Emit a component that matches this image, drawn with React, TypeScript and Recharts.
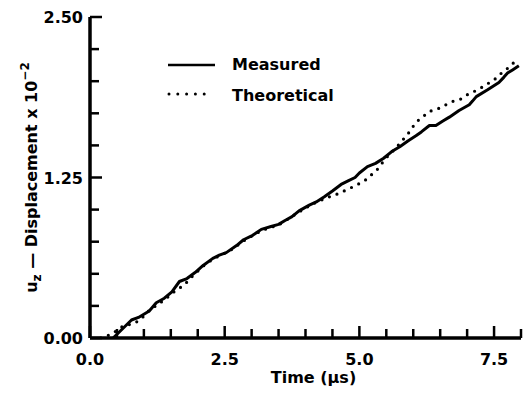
import React from "react";
import { LineChart, Line, XAxis, YAxis, Legend } from "recharts";

// Measured displacement (time µs, u_z x 10^-2)
const measuredTime = [0.43, 0.6, 0.77, 0.9, 1.0, 1.1, 1.23, 1.38, 1.52, 1.66, 1.8, 1.95, 2.1, 2.28, 2.4, 2.53, 2.72, 2.85, 3.02, 3.18, 3.36, 3.5, 3.62, 3.75, 3.88, 4.07, 4.2, 4.35, 4.5, 4.66, 4.8, 4.92, 5.0, 5.15, 5.3, 5.45, 5.6, 5.75, 5.9, 6.05, 6.15, 6.3, 6.42, 6.55, 6.67, 6.85, 7.04, 7.1, 7.17, 7.38, 7.59, 7.68, 7.75, 7.85, 7.96];
const measuredDisp = [0, 0.07, 0.14, 0.16, 0.185, 0.21, 0.275, 0.31, 0.36, 0.44, 0.463, 0.51, 0.565, 0.62, 0.645, 0.665, 0.72, 0.765, 0.8, 0.846, 0.868, 0.885, 0.915, 0.945, 0.99, 1.035, 1.06, 1.1, 1.145, 1.196, 1.225, 1.25, 1.285, 1.335, 1.36, 1.4, 1.452, 1.49, 1.535, 1.575, 1.605, 1.655, 1.655, 1.69, 1.72, 1.772, 1.817, 1.845, 1.88, 1.933, 1.99, 2.03, 2.063, 2.09, 2.12];

// Theoretical displacement
const theoryTime = [0.2, 0.4, 0.62, 0.8, 0.93, 1.11, 1.26, 1.48, 1.6, 1.73, 1.9, 2.1, 2.3, 2.6, 2.9, 3.2, 3.5, 3.8, 3.95, 4.14, 4.38, 4.57, 4.78, 4.97, 5.1, 5.19, 5.31, 5.49, 5.68, 5.8, 5.93, 6.05, 6.17, 6.3, 6.45, 6.61, 6.73, 6.88, 7.0, 7.13, 7.25, 7.38, 7.5, 7.62, 7.75, 7.84, 7.96];
const theoryDisp = [0, 0.03, 0.095, 0.11, 0.14, 0.22, 0.26, 0.33, 0.375, 0.405, 0.48, 0.56, 0.62, 0.68, 0.77, 0.84, 0.88, 0.96, 1.0, 1.045, 1.09, 1.118, 1.157, 1.196, 1.225, 1.26, 1.3, 1.4, 1.48, 1.54, 1.605, 1.68, 1.72, 1.765, 1.783, 1.817, 1.842, 1.861, 1.894, 1.92, 1.946, 1.98, 2.01, 2.057, 2.1, 2.135, 2.18];

const xTicks = [0, 0.5, 1, 1.5, 2, 2.5, 3, 3.5, 4, 4.5, 5, 5.5, 6, 6.5, 7, 7.5, 8];
const xMajorTicks = [0, 2.5, 5, 7.5];
const xTickLabels = ["0.0", "2.5", "5.0", "7.5"];

const yTicks = [0, 0.25, 0.5, 0.75, 1, 1.25, 1.5, 1.75, 2, 2.25, 2.5];
const yMajorTicks = [0, 1.25, 2.5];
const yTickLabels = ["0.00", "1.25", "2.50"];

const seriesNames = ["Measured", "Theoretical"];

const measuredData = measuredTime.map((t, i) => ({ t, v: measuredDisp[i] }));
const theoryData = theoryTime.map((t, i) => ({ t, v: theoryDisp[i] }));

const FONT = "'DejaVu Sans', sans-serif";

const XTick = (props: any) => {
  const { x, y, payload } = props;
  const idx = xMajorTicks.indexOf(payload.value);
  const major = idx >= 0;
  return (
    <g>
      <line x1={x} x2={x} y1={y} y2={y - (major ? 12 : 9)} stroke="#000" strokeWidth={2.5} />
      {major && (
        <text x={x} y={y + 27} textAnchor="middle" fontFamily={FONT} fontWeight="bold" fontSize={16} fill="#000">
          {xTickLabels[idx]}
        </text>
      )}
    </g>
  );
};

const YTick = (props: any) => {
  const { x, y, payload } = props;
  const idx = yMajorTicks.indexOf(payload.value);
  const major = idx >= 0;
  return (
    <g>
      <line x1={x} x2={x + (major ? 12 : 9)} y1={y} y2={y} stroke="#000" strokeWidth={2.5} />
      {major && (
        <text x={x - 7} y={y + 6} textAnchor="end" fontFamily={FONT} fontWeight="bold" fontSize={16} fill="#000">
          {yTickLabels[idx]}
        </text>
      )}
    </g>
  );
};

const YLabel = (props: any) => {
  const vb = props.viewBox || {};
  const cx = vb.x + 37;
  const cy = vb.y + vb.height / 2;
  return (
    <text
      x={cx}
      y={cy}
      transform={`rotate(-90, ${cx}, ${cy})`}
      textAnchor="middle"
      fontFamily={FONT}
      fontWeight="bold"
      fontSize={16}
      fill="#000"
    >
      <tspan>u</tspan>
      <tspan dy={4} fontSize={12}>z</tspan>
      <tspan dy={-4}> — Displacement x 10</tspan>
      <tspan dy={-8} fontSize={12}>−2</tspan>
    </text>
  );
};

const XLabel = (props: any) => {
  const vb = props.viewBox || {};
  const cx = vb.x + vb.width / 2 + 8;
  const cy = vb.y + 45;
  return (
    <text x={cx} y={cy} textAnchor="middle" fontFamily={FONT} fontWeight="bold" fontSize={16} fill="#000">
      Time (μs)
    </text>
  );
};

const LegendContent = () => (
  <svg width={200} height={60} style={{ display: "block" }}>
    <line x1={8} x2={55} y1={15} y2={15} stroke="#000" strokeWidth={2.5} />
    <text x={72} y={20} fontFamily={FONT} fontWeight="bold" fontSize={16} fill="#000">
      {seriesNames[0]}
    </text>
    <line x1={9} x2={53} y1={44} y2={44} stroke="#000" strokeWidth={3} strokeDasharray="0 8.8" strokeLinecap="round" />
    <text x={72} y={51} fontFamily={FONT} fontWeight="bold" fontSize={16} fill="#000">
      {seriesNames[1]}
    </text>
  </svg>
);

export default function App() {
  return (
    <div style={{ position: "absolute", left: 0, top: 0, width: 523, height: 393, background: "#fff" }}>
      <LineChart width={523} height={393} margin={{ top: 17, right: 2, bottom: 0, left: 0 }}>
        <XAxis
          dataKey="t"
          type="number"
          domain={[0, 8]}
          ticks={xTicks}
          interval={0}
          allowDataOverflow
          height={55}
          tickSize={0}
          tickMargin={0}
          tickLine={false}
          tick={<XTick />}
          axisLine={{ stroke: "#000", strokeWidth: 3.5 }}
          label={<XLabel />}
        />
        <YAxis
          dataKey="v"
          type="number"
          domain={[0, 2.5]}
          ticks={yTicks}
          interval={0}
          allowDataOverflow
          width={90}
          tickSize={0}
          tickMargin={0}
          tickLine={false}
          tick={<YTick />}
          axisLine={{ stroke: "#000", strokeWidth: 3.5 }}
          label={<YLabel />}
        />
        <Legend
          layout="vertical"
          align="center"
          verticalAlign="middle"
          content={<LegendContent />}
          wrapperStyle={{ position: "absolute", left: 160, top: 50, width: 200, height: 60 }}
        />
        <Line
          data={measuredData}
          dataKey="v"
          type="linear"
          stroke="#000"
          strokeWidth={3}
          strokeLinejoin="round"
          dot={false}
          isAnimationActive={false}
          name={seriesNames[0]}
        />
        <Line
          data={theoryData}
          dataKey="v"
          type="linear"
          stroke="#000"
          strokeWidth={3.2}
          strokeDasharray="0 8"
          strokeLinecap="round"
          dot={false}
          isAnimationActive={false}
          name={seriesNames[1]}
        />
      </LineChart>
    </div>
  );
}
